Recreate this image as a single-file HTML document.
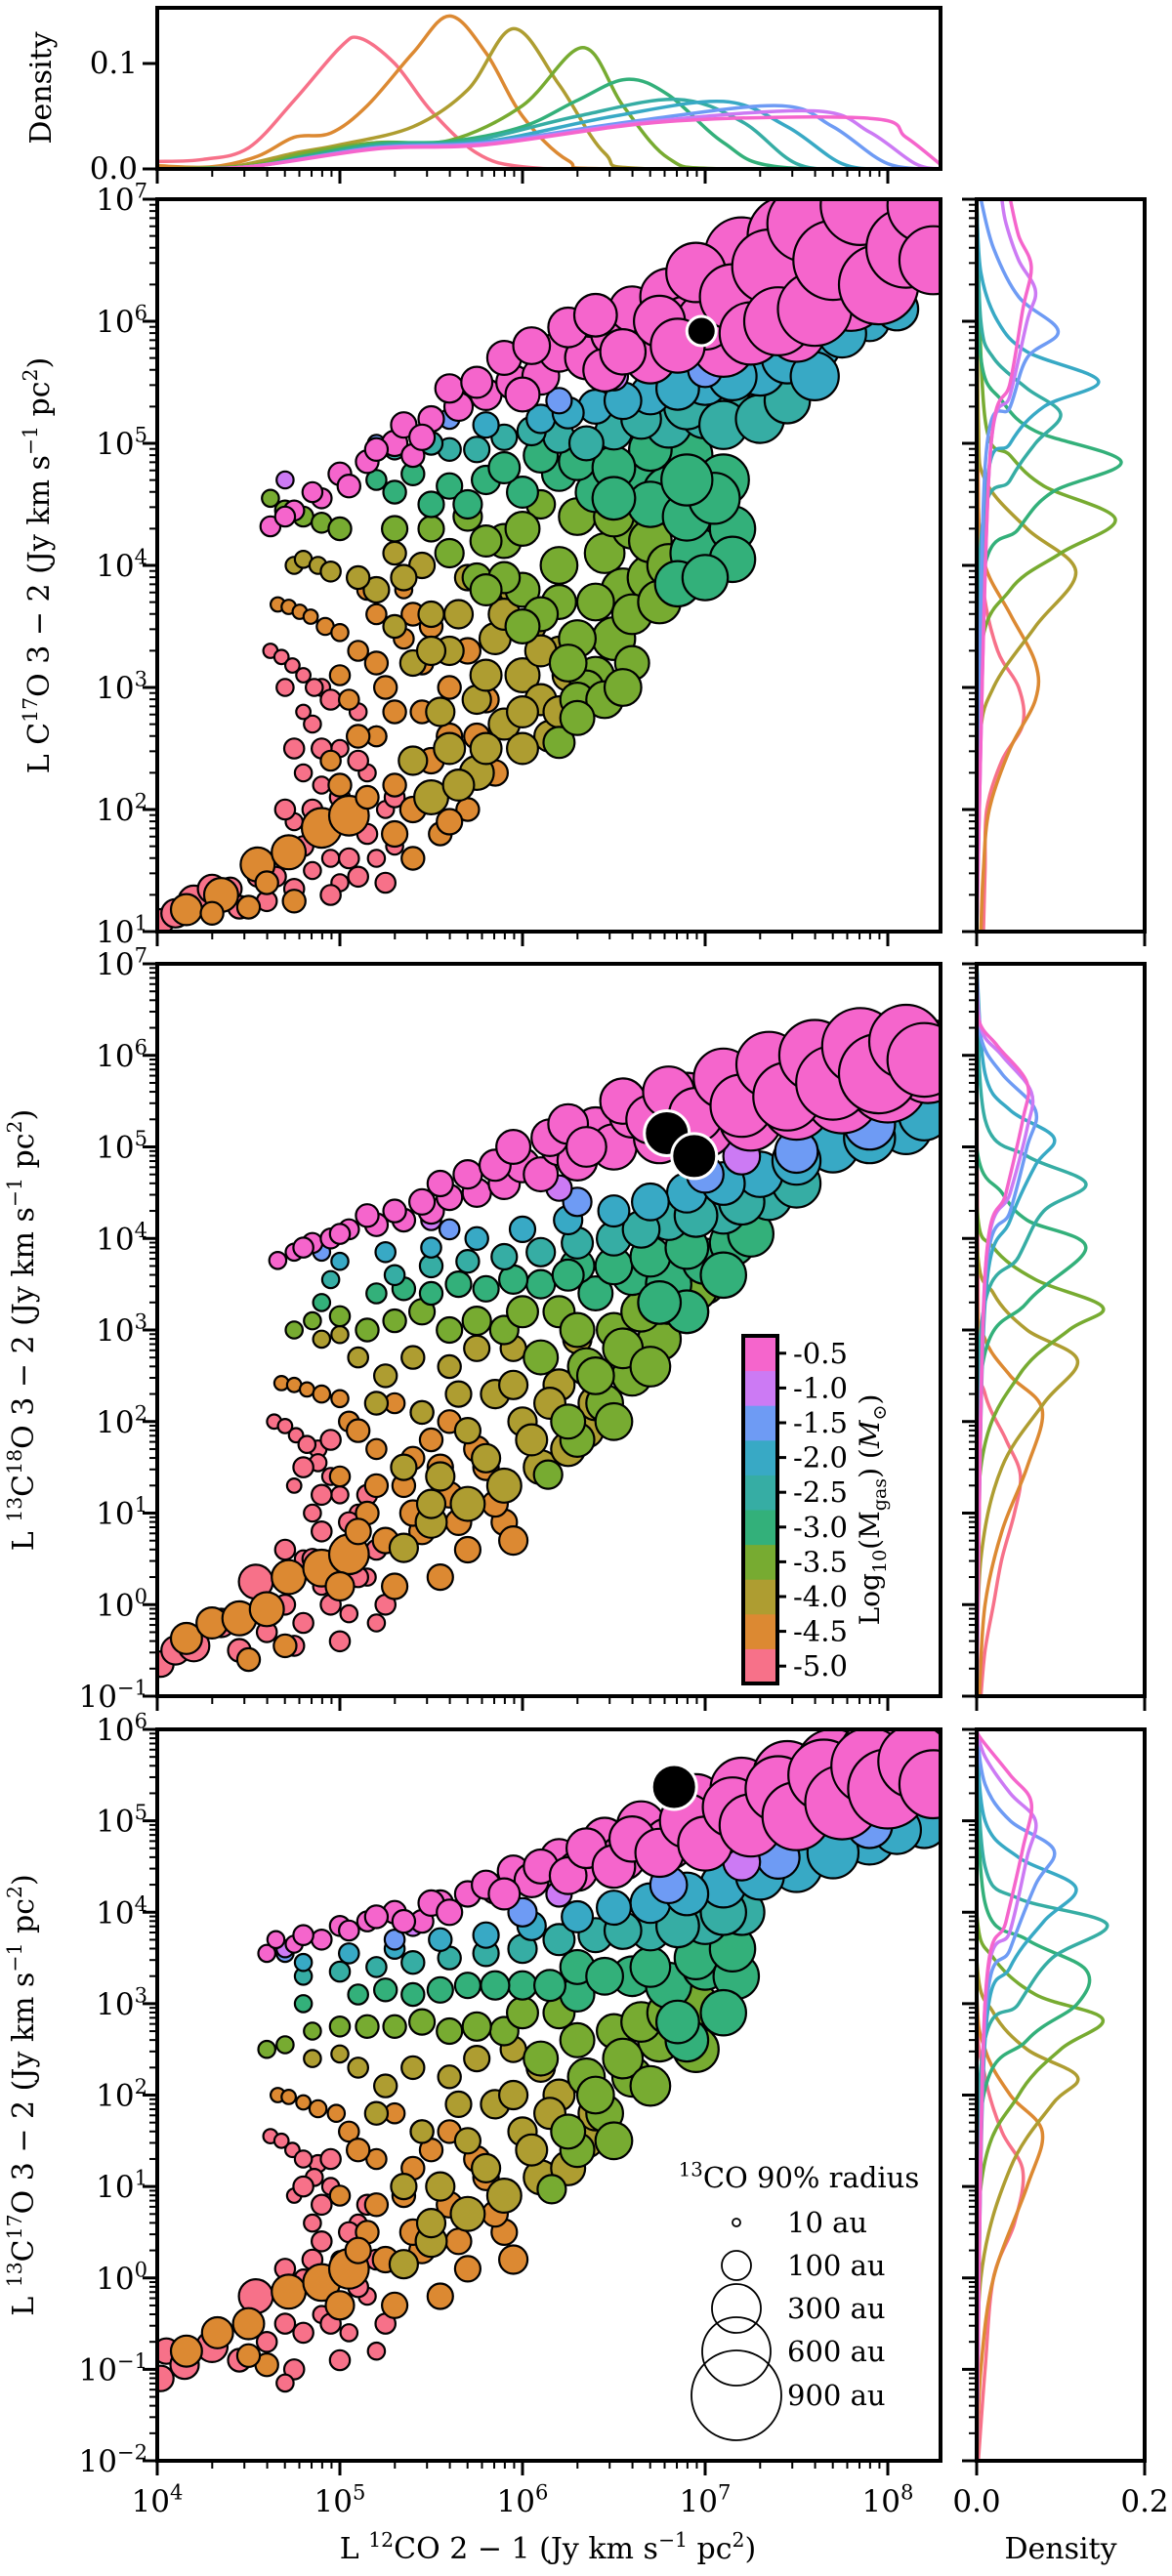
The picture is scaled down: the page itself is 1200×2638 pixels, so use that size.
<!DOCTYPE html>
<html><head><meta charset="utf-8"><title>Line luminosity scatter</title>
<style>html,body{margin:0;padding:0;background:#fff}svg{display:block}text{font-family:"DejaVu Serif","Liberation Serif",serif;fill:#000}</style>
</head><body>
<svg id="fig" width="1200" height="2638" viewBox="0 0 1200 2638" xmlns="http://www.w3.org/2000/svg"></svg>
<script>
// ---------- data ----------
const massLabels = ['-5.0','-4.5','-4.0','-3.5','-3.0','-2.5','-2.0','-1.5','-1.0','-0.5'];
const massColors = ['#f77189','#dc8932','#ae9d31','#77ab31','#33b07a','#36ada4','#38a9c5','#6e9bf4','#cc7af4','#f565cc'];
const xTickExps = [4,5,6,7,8];
const legendSizesAu = ['10 au','100 au','300 au','600 au','900 au'];
const legendRadii = [4,15,25,35,46];

// panel 1: C17O  [log10 L12CO, log10 Ly, radius]
const p1_c0=[[4.02,1.08,9],[4.1,1.15,10],[4.2,1.25,11],[4.3,1.35,10],[4.45,1.2,8],[4.55,1.45,7],[4.6,1.25,7],[4.75,1.35,7],[4.75,1.9,6],[4.8,2.3,6],[4.85,2.7,6],[4.9,2.2,6],[4.95,1.6,6],[5.0,2.5,6],[5.05,1.9,6],[5.1,2.8,6],[4.9,3.0,6],[5.15,2.3,6],[5.2,1.6,6],[5.0,1.4,6],[5.25,2.0,6],[4.85,1.5,6],[5.3,1.7,6],[4.62,3.3,5],[4.68,3.25,5],[4.74,3.18,5],[4.8,3.1,5],[4.86,3.0,6],[4.8,2.8,5],
 [4.7,2.0,7],[4.75,2.5,7],[4.8,1.7,7],[4.9,2.5,7],[4.95,2.9,7],[5.0,2.1,7],[5.05,1.6,7],[5.1,2.4,7],[5.15,1.8,7],[5.2,2.6,7],[5.25,1.4,7],[5.3,2.1,7],[4.85,2.0,7],[4.7,3.0,6],[4.95,1.3,7],[5.1,1.45,7],[4.65,1.45,7],[4.4,1.35,8]];
const p1_c1=[[4.16,1.18,11],[4.35,1.3,12],[4.55,1.55,12],[4.72,1.65,12],[4.9,1.85,14],[5.05,1.95,14],[4.5,1.2,8],[4.75,1.25,8],[4.95,2.4,7],[5.05,2.9,7],[5.1,3.3,7],[5.2,2.6,7],[5.25,3.0,8],[5.3,2.2,8],[5.35,3.4,7],[5.45,2.8,8],[5.5,2.4,9],[5.6,3.0,8],[5.7,2.0,8],[5.55,1.8,8],[5.4,1.6,8],[5.15,2.1,8],[5.75,2.6,9],[5.2,3.6,7],[5.35,3.8,6],[4.66,3.68,5],[4.72,3.66,5],[4.78,3.62,5],[4.84,3.58,5],[4.92,3.5,6],[5.0,3.45,6],
 [5.0,2.2,8],[5.1,2.6,8],[5.2,3.2,8],[5.3,2.8,8],[5.4,2.0,9],[5.45,3.2,8],[5.5,3.5,8],[5.6,2.6,9],[5.65,2.2,9],[5.7,3.3,9],[5.8,2.9,9],[5.85,2.3,9],[5.6,1.9,9],[5.3,1.8,9],[5.0,3.1,7],[5.15,3.8,7],[5.4,3.6,8],[4.6,1.4,8],[4.3,1.15,8]];
const p1_c2=[[4.75,4.0,6],[4.8,4.05,6],[4.88,4.0,6],[4.95,3.95,7],[5.3,3.5,8],[5.4,3.2,9],[5.5,3.6,9],[5.6,3.3,10],[5.7,3.9,9],[5.75,2.9,10],[5.85,3.4,11],[5.9,2.7,11],[6.0,3.1,12],[6.1,2.9,11],[6.15,2.6,11],[5.95,3.8,10],[5.6,2.5,11],[5.5,2.1,12],[5.75,2.3,12],[6.05,3.5,10],[5.45,4.0,9],[6.2,3.3,10],
 [5.2,3.8,9],[5.35,3.9,9],[5.5,3.3,10],[5.55,2.8,10],[5.65,3.6,10],[5.8,3.1,11],[5.8,2.5,11],[5.9,3.6,11],[6.0,2.8,11],[6.1,3.3,11],[6.2,2.8,11],[6.25,3.1,11],[5.65,2.2,11],[5.4,2.4,10],[6.0,2.5,11],[5.3,4.1,8],[5.1,3.9,8]];
const p1_c3=[[4.62,4.55,6],[4.7,4.45,7],[4.8,4.4,7],[4.9,4.35,7],[5.0,4.3,8],[5.5,4.3,9],[5.7,4.4,10],[5.9,4.2,12],[6.0,3.8,12],[6.2,4.0,13],[6.3,4.4,13],[6.45,4.1,14],[6.55,3.8,15],[6.6,4.3,14],[6.5,3.4,15],[6.4,3.1,13],[6.3,3.4,13],[6.2,3.7,12],[6.7,3.9,16],[6.35,3.0,12],[6.6,3.2,12],[6.1,4.5,10],[5.75,3.9,10],[6.2,2.55,11],[6.3,2.9,12],
 [5.3,4.3,9],[5.6,4.1,10],[5.8,4.2,11],[5.9,3.9,11],[6.0,4.3,12],[6.1,3.6,12],[6.25,3.2,13],[6.4,3.7,13],[6.5,4.4,14],[6.6,3.6,14],[6.7,4.2,15],[6.8,4.0,15],[6.45,2.9,13],[6.55,3.0,13],[6.3,2.75,12],[6.0,3.5,12],[5.8,3.8,11],[6.75,3.7,15]];
const p1_c4=[[5.2,4.7,7],[5.4,4.75,8],[5.6,4.65,9],[5.8,4.7,10],[6.0,4.6,11],[6.2,4.75,12],[6.4,4.6,14],[6.6,4.7,16],[6.8,4.6,18],[6.9,4.9,18],[7.0,4.4,20],[7.1,4.7,18],[6.95,4.1,18],[6.85,3.85,16],[7.15,4.3,16],[6.7,4.95,15],
 [5.3,4.6,8],[5.5,4.5,9],[5.7,4.5,10],[5.9,4.8,11],[6.1,4.9,12],[6.3,4.85,13],[6.5,4.8,15],[6.7,4.5,16],[6.9,4.4,17],[7.05,4.55,18],[7.15,4.05,16],[7.0,3.9,16],[6.9,4.7,18],[6.5,4.55,15]];
const p1_c5=[[5.3,4.95,7],[5.6,4.95,8],[5.9,5.05,9],[6.2,5.05,11],[6.5,5.1,13],[6.8,5.15,16],[7.0,5.25,18],[7.2,5.3,18],[7.35,5.3,16],
 [5.5,5.0,8],[5.75,4.95,9],[6.05,5.1,10],[6.35,5.0,12],[6.65,5.2,14],[6.9,5.3,16],[7.1,5.15,17],[7.3,5.2,17],[7.45,5.35,16]];
const p1_c6=[[5.8,5.15,9],[6.1,5.2,10],[6.4,5.3,12],[6.7,5.4,14],[7.0,5.5,16],[7.3,5.6,18],[7.6,5.8,18],[7.9,6.0,14],
 [6.25,5.25,11],[6.55,5.35,13],[6.85,5.45,15],[7.15,5.55,17],[7.45,5.7,18],[7.75,5.9,17],[8.05,6.1,15],[7.6,5.55,17]];
const p1_c7=[[5.2,5.0,6],[5.6,5.2,7],[6.2,5.35,9],[7.0,5.6,12],[7.8,6.1,14]];
const p1_c8=[[4.7,4.7,6],[5.5,5.2,7],[6.5,5.55,10],[7.5,5.9,14]];
const p1_c9=[[4.62,4.32,7],[4.75,4.45,7],[4.9,4.55,7],[5.0,4.75,8],[5.15,4.85,8],[5.3,5.0,9],[5.4,4.9,8],[5.5,5.2,9],[5.65,5.3,10],[5.8,5.4,11],[5.95,5.5,12],[6.1,5.55,13],[6.2,5.75,14],[6.35,5.7,15],[6.5,5.9,16],[6.6,6.1,16],[6.7,5.7,18],[6.8,6.2,20],[6.9,5.95,22],[7.05,6.35,24],[7.1,5.8,22],[7.2,6.55,26],[7.3,6.1,28],[7.45,6.7,28],[7.6,6.4,30],[7.75,6.85,30],[7.9,6.6,30],[8.05,6.95,28],[8.15,6.8,26],[8.25,7.0,22],[7.5,5.9,20],[7.8,6.2,24],[8.0,6.45,22],[7.0,6.0,20],
 [4.7,4.4,7],[4.85,4.6,7],[5.05,4.65,8],[5.2,4.95,8],[5.35,5.15,9],[5.45,5.05,9],[5.6,5.45,10],[5.75,5.5,11],[5.9,5.7,12],[6.0,5.4,12],[6.05,5.8,13],[6.25,5.95,14],[6.4,6.05,15],[6.45,5.6,15],[6.55,5.75,16],[6.75,6.0,18],[6.85,5.8,19],[6.95,6.4,21],[7.15,6.2,23],[7.25,5.9,22],[7.35,6.45,26],[7.4,6.0,24],[7.55,6.8,27],[7.6,6.1,26],[7.7,6.5,28],[7.85,6.95,28],[7.95,6.3,28],[8.1,6.6,28],[8.2,6.95,26],[8.25,6.5,24]];
const p1_obs=[[6.98,5.92,15]];

// panel 2: 13C18O
const p2_c0=[[4.02,-0.65,9],[4.1,-0.5,10],[4.2,-0.45,11],[4.35,-0.2,10],[4.54,0.25,12],[4.45,-0.5,8],[4.6,-0.3,7],[4.75,-0.45,7],[4.8,0.5,6],[4.85,1.0,6],[4.9,0.2,6],[4.95,1.4,6],[5.0,0.6,6],[5.05,-0.1,6],[5.1,1.0,6],[5.15,0.3,6],[4.88,1.7,6],[5.2,-0.2,6],[5.0,1.2,6],[4.64,2.0,5],[4.7,1.95,5],[4.76,1.85,5],[4.82,1.75,6],[4.88,1.55,6],[4.75,1.3,5],
 [4.7,0.0,7],[4.8,-0.2,7],[4.85,0.5,7],[4.9,1.2,7],[4.95,0.0,7],[5.0,-0.4,7],[5.05,0.9,7],[5.1,0.3,7],[5.15,1.2,7],[5.2,0.6,7],[4.9,0.8,7],[4.8,1.5,7],[5.25,0.0,7],[4.7,0.6,7],[4.95,1.8,7]];
const p2_c1=[[4.16,-0.37,11],[4.3,-0.2,11],[4.45,-0.15,12],[4.6,-0.05,12],[4.72,0.3,12],[4.9,0.4,13],[5.05,0.55,14],[4.5,-0.6,8],[4.7,-0.45,8],[5.0,1.4,7],[5.05,2.0,7],[5.15,1.0,8],[5.2,1.7,7],[5.3,2.2,7],[5.35,1.3,8],[5.45,0.8,9],[5.5,1.8,8],[5.6,1.2,9],[5.7,0.6,9],[5.8,1.5,9],[5.9,0.9,9],[5.55,0.3,9],[5.3,0.2,9],[4.68,2.42,5],[4.75,2.4,5],[4.82,2.35,5],[4.9,2.3,6],[5.0,2.25,6],
 [5.1,1.9,8],[5.2,1.3,8],[5.25,0.7,9],[5.4,1.6,8],[5.45,2.1,8],[5.55,1.5,9],[5.65,0.9,9],[5.75,1.7,9],[5.85,1.1,9],[5.95,0.7,10],[5.4,1.0,9],[5.1,0.8,9],[5.0,0.2,10],[5.6,2.0,8]];
const p2_c2=[[4.9,2.9,6],[5.0,2.95,6],[5.1,2.7,7],[5.25,2.5,8],[5.35,0.62,10],[5.5,0.9,11],[5.7,1.1,12],[5.9,1.3,12],[6.1,1.5,12],[5.45,2.1,8],[5.6,2.6,8],[5.7,1.9,9],[5.85,2.3,10],[6.0,2.0,10],[6.2,2.4,11],[6.35,1.9,12],[5.95,2.8,9],[6.3,2.9,10],
 [5.2,2.2,8],[5.35,1.5,9],[5.4,2.7,8],[5.55,1.4,10],[5.65,2.3,9],[5.75,2.8,9],[5.8,1.6,10],[5.95,2.4,10],[6.05,1.8,11],[6.15,2.2,11],[6.25,1.7,12],[6.4,2.2,12],[6.1,2.7,10],[5.5,1.1,10]];
const p2_c3=[[4.75,3.0,6],[4.85,3.1,6],[5.0,3.15,7],[5.3,3.1,8],[5.6,3.0,9],[5.9,3.0,10],[6.1,2.7,12],[6.14,1.42,10],[6.3,1.8,12],[6.45,2.2,13],[6.6,2.5,14],[6.75,2.9,15],[6.9,3.2,15],[6.5,3.0,12],[6.2,3.2,11],[6.35,2.6,13],[7.0,3.5,14],
 [5.15,3.0,8],[5.45,3.2,9],[5.75,3.1,10],[6.0,3.2,11],[6.25,2.0,12],[6.4,2.5,13],[6.55,2.8,14],[6.65,3.2,14],[6.8,3.3,15],[6.95,3.45,15],[6.5,2.0,13],[6.7,2.6,14],[6.3,3.0,12]];
const p2_c4=[[4.9,3.3,6],[5.2,3.4,7],[5.5,3.4,8],[5.8,3.45,9],[6.1,3.5,10],[6.4,3.4,12],[6.6,3.6,14],[6.8,3.5,16],[7.0,3.75,16],[7.15,3.95,16],[6.9,3.2,15],[6.3,3.7,12],
 [5.35,3.45,8],[5.65,3.5,9],[5.95,3.55,10],[6.25,3.6,11],[6.5,3.7,13],[6.7,3.8,14],[6.9,3.9,15],[7.1,3.6,16],[7.25,4.05,16],[6.75,3.3,15]];
const p2_c5=[[4.95,3.55,6],[5.3,3.6,7],[5.7,3.75,8],[6.1,3.85,10],[6.5,4.0,12],[6.8,4.2,14],[7.1,4.3,16],[7.35,4.45,16],
 [5.5,3.7,8],[5.9,3.8,9],[6.3,3.95,11],[6.65,4.1,13],[6.95,4.25,15],[7.2,4.4,16],[7.5,4.6,17]];
const p2_c6=[[5.0,3.75,6],[5.5,3.9,7],[6.0,4.1,9],[6.5,4.3,11],[6.9,4.5,14],[7.3,4.7,16],[7.7,5.0,18],[8.1,5.2,18],
 [5.25,3.85,7],[5.75,4.0,8],[6.25,4.2,10],[6.7,4.4,13],[7.1,4.6,15],[7.5,4.85,17],[7.9,5.1,18],[8.2,5.35,18]];
const p2_c7=[[4.9,3.85,6],[5.6,4.1,7],[6.3,4.4,10],[7.0,4.7,13],[7.5,4.95,15],[7.9,5.25,18]];
const p2_c8=[[4.8,3.9,6],[5.5,4.2,7],[6.2,4.55,9],[7.2,4.9,13]];
const p2_c9=[[4.66,3.76,6],[4.75,3.85,6],[4.85,3.95,7],[4.95,4.0,7],[5.05,4.1,7],[5.2,4.15,8],[5.35,4.2,8],[5.5,4.3,9],[5.6,4.45,9],[5.75,4.5,10],[5.9,4.6,11],[6.0,4.8,12],[6.1,4.7,12],[6.2,5.0,13],[6.3,4.85,14],[6.4,5.2,15],[6.5,5.0,16],[6.6,5.35,16],[6.75,5.1,18],[6.9,5.5,20],[7.0,5.2,20],[7.15,5.6,22],[7.25,5.3,22],[7.4,5.75,24],[7.5,5.45,24],[7.65,5.85,26],[7.75,5.55,26],[7.9,5.95,28],[8.0,5.7,28],[8.15,6.05,26],[8.22,5.85,24],[8.27,6.1,18],
 [4.8,3.9,7],[5.0,4.05,7],[5.15,4.25,8],[5.3,4.3,8],[5.45,4.4,9],[5.55,4.6,9],[5.7,4.7,10],[5.85,4.8,11],[5.95,5.0,12],[6.15,5.1,13],[6.25,5.25,14],[6.35,5.0,14],[6.55,5.5,16],[6.7,5.3,17],[6.8,5.6,18],[6.95,5.35,19],[7.1,5.75,21],[7.2,5.45,22],[7.35,5.9,23],[7.45,5.55,24],[7.6,6.0,25],[7.7,5.7,26],[7.85,6.1,27],[7.95,5.8,28],[8.1,6.15,26],[8.2,5.95,26]];
const p2_obs=[[6.79,5.15,23],[6.94,4.9,23]];

// panel 3: 13C17O
const p3_c0=[[4.02,-1.1,9],[4.05,-0.8,9],[4.15,-0.95,10],[4.3,-0.75,11],[4.54,-0.2,12],[4.45,-0.9,8],[4.6,-0.7,7],[4.75,-1.0,7],[4.7,-1.15,6],[4.8,0.0,6],[4.85,0.6,6],[4.9,-0.4,6],[4.95,1.0,6],[5.0,0.2,6],[5.05,-0.6,6],[5.1,0.6,6],[5.15,-0.2,6],[4.88,1.25,6],[5.2,-0.8,6],[5.0,0.9,6],[4.62,1.55,5],[4.68,1.5,5],[4.74,1.4,5],[4.8,1.3,6],[4.86,1.1,6],[4.75,0.9,5],
 [4.7,-0.5,7],[4.8,-0.6,7],[4.85,0.2,7],[4.9,0.8,7],[4.95,-0.5,7],[5.0,-0.9,7],[5.05,0.5,7],[5.1,-0.1,7],[5.15,0.8,7],[5.2,0.2,7],[4.9,0.4,7],[4.8,1.0,7],[5.25,-0.5,7],[4.7,0.1,7],[4.95,1.3,7]];
const p3_c1=[[4.16,-0.8,11],[4.33,-0.6,11],[4.5,-0.5,11],[4.72,-0.15,12],[4.9,-0.05,13],[5.05,0.1,14],[4.6,-0.95,8],[4.5,-0.85,8],[5.0,0.9,7],[5.05,1.6,7],[5.15,0.5,8],[5.2,1.3,7],[5.3,1.8,7],[5.35,0.9,8],[5.45,0.3,9],[5.5,1.4,8],[5.6,0.8,9],[5.7,0.1,9],[5.8,1.1,9],[5.9,0.5,9],[5.55,-0.2,9],[5.3,-0.3,9],[4.66,2.0,5],[4.72,1.98,5],[4.8,1.92,5],[4.88,1.85,6],[4.98,1.8,6],
 [5.1,1.4,8],[5.2,0.8,8],[5.25,0.2,9],[5.4,1.2,8],[5.45,1.6,8],[5.55,1.0,9],[5.65,0.4,9],[5.75,1.3,9],[5.85,0.7,9],[5.95,0.2,10],[5.4,0.5,9],[5.1,0.3,9],[5.0,-0.3,10],[5.6,1.6,8]];
const p3_c2=[[4.85,2.4,6],[5.0,2.45,6],[5.1,2.3,7],[5.25,2.1,8],[5.35,0.15,10],[5.5,0.4,11],[5.7,0.7,12],[5.9,0.9,12],[6.1,1.1,12],[5.45,1.6,8],[5.6,2.2,8],[5.7,1.5,9],[5.85,1.9,10],[6.0,1.6,10],[6.2,2.0,11],[6.35,1.5,12],[5.95,2.5,9],[6.3,2.6,10],
 [5.2,1.8,8],[5.35,1.0,9],[5.4,2.3,8],[5.55,1.0,10],[5.65,1.9,9],[5.75,2.4,9],[5.8,1.2,10],[5.95,2.0,10],[6.05,1.4,11],[6.15,1.8,11],[6.25,1.2,12],[6.4,1.8,12],[6.1,2.3,10],[5.5,0.6,10]];
const p3_c3=[[4.6,2.5,6],[4.7,2.55,6],[4.85,2.7,6],[5.0,2.75,7],[5.3,2.75,8],[5.6,2.7,9],[5.9,2.7,10],[6.1,2.4,12],[6.16,0.97,10],[6.3,1.4,12],[6.45,1.8,13],[6.6,2.2,14],[6.75,2.6,15],[6.9,2.9,15],[6.5,2.7,12],[6.2,2.9,11],[6.35,2.2,13],[6.95,2.5,16],
 [5.15,2.75,8],[5.45,2.8,9],[5.75,2.75,10],[6.0,2.9,11],[6.25,1.6,12],[6.4,2.0,13],[6.55,2.4,14],[6.65,2.8,14],[6.8,2.9,15],[6.95,3.0,15],[6.5,1.5,13],[6.7,2.1,14],[6.3,2.6,12]];
const p3_c4=[[4.8,3.0,6],[5.1,3.1,7],[5.4,3.1,8],[5.7,3.2,9],[6.0,3.2,10],[6.3,3.1,12],[6.6,3.3,14],[6.8,3.2,16],[7.0,3.4,16],[7.17,3.3,16],[6.9,2.6,15],[6.3,3.4,12],
 [5.25,3.15,8],[5.55,3.15,9],[5.85,3.2,10],[6.15,3.2,11],[6.45,3.3,13],[6.7,3.4,14],[6.95,3.5,15],[7.1,2.9,16],[7.15,3.6,16],[6.85,2.8,15]];
const p3_c5=[[4.8,3.3,6],[5.2,3.4,7],[5.6,3.5,8],[6.0,3.6,10],[6.4,3.75,12],[6.7,3.8,14],[7.0,3.9,16],[7.2,4.0,16],
 [5.0,3.35,7],[5.4,3.45,8],[5.8,3.55,9],[6.2,3.7,11],[6.55,3.8,13],[6.85,3.85,15],[7.1,4.0,16]];
const p3_c6=[[4.8,3.45,6],[5.3,3.6,7],[5.8,3.75,9],[6.3,3.95,11],[6.7,4.1,14],[7.1,4.3,16],[7.5,4.5,18],[7.9,4.8,18],[8.2,4.95,16],
 [5.05,3.55,7],[5.55,3.7,8],[6.05,3.85,10],[6.5,4.05,12],[6.9,4.2,15],[7.3,4.4,17],[7.7,4.65,18],[8.05,4.9,17]];
const p3_c7=[[4.7,3.55,6],[5.3,3.7,7],[6.0,4.0,10],[6.8,4.3,13],[7.4,4.6,15],[7.9,4.95,16]];
const p3_c8=[[4.7,3.6,6],[5.4,3.85,7],[6.2,4.2,9],[7.2,4.55,13]];
const p3_c9=[[4.6,3.55,6],[4.65,3.7,6],[4.75,3.65,6],[4.9,3.7,7],[5.0,3.85,7],[5.15,3.9,7],[5.3,4.0,8],[5.45,3.9,8],[5.55,4.1,9],[5.7,4.2,9],[5.85,4.25,10],[5.95,4.45,11],[6.05,4.35,12],[6.2,4.6,13],[6.3,4.45,14],[6.45,4.8,15],[6.55,4.6,16],[6.65,4.95,17],[6.8,4.75,18],[6.95,5.2,20],[7.05,4.9,20],[7.2,5.35,22],[7.3,5.05,22],[7.45,5.5,24],[7.55,5.2,24],[7.7,5.6,26],[7.8,5.3,26],[7.95,5.7,28],[8.05,5.45,28],[8.2,5.75,26],[8.25,5.5,24],
 [4.8,3.75,7],[5.05,3.8,7],[5.2,3.95,8],[5.35,3.9,8],[5.5,4.1,9],[5.6,4.0,9],[5.8,4.3,10],[5.9,4.2,11],[6.1,4.5,12],[6.25,4.4,13],[6.35,4.7,14],[6.5,4.5,15],[6.6,4.8,16],[6.75,4.65,17],[6.9,5.0,19],[7.0,4.75,19],[7.15,5.15,21],[7.25,4.95,22],[7.4,5.35,23],[7.5,5.05,24],[7.65,5.5,25],[7.75,5.2,26],[7.9,5.6,27],[8.0,5.35,28],[8.15,5.65,26],[8.25,5.4,24]];
const p3_obs=[[6.83,5.37,23]];

// top marginal density [log x, density]
const top_c0=[[4,0.007],[4.25,0.009],[4.5,0.02],[4.75,0.065],[5.0,0.115],[5.11,0.124],[5.3,0.1],[5.5,0.055],[5.75,0.015],[6.0,0.002],[6.5,0],[8.29,0]];
const top_c1=[[4,0.003],[4.3,0.002],[4.55,0.012],[4.75,0.03],[4.95,0.034],[5.15,0.06],[5.4,0.11],[5.6,0.145],[5.8,0.11],[6.0,0.05],[6.25,0.008],[6.5,0],[8.29,0]];
const top_c2=[[4,0],[4.4,0.002],[4.75,0.015],[5.0,0.023],[5.4,0.04],[5.7,0.075],[5.95,0.133],[6.2,0.08],[6.45,0.015],[6.7,0],[8.29,0]];
const top_c3=[[4,0],[4.5,0.003],[4.8,0.015],[5.2,0.025],[5.6,0.027],[6.0,0.06],[6.33,0.115],[6.55,0.06],[6.8,0.01],[7.1,0],[8.29,0]];
const top_c4=[[4,0],[4.5,0.002],[4.8,0.012],[5.2,0.024],[5.6,0.026],[6.0,0.04],[6.3,0.065],[6.57,0.085],[6.8,0.07],[7.1,0.025],[7.4,0.002],[8.29,0]];
const top_c5=[[4,0],[4.5,0.002],[5.2,0.022],[5.7,0.026],[6.3,0.05],[6.84,0.066],[7.2,0.045],[7.5,0.005],[7.8,0],[8.29,0]];
const top_c6=[[4,0],[4.5,0.002],[5.2,0.021],[5.8,0.026],[6.5,0.05],[7.1,0.064],[7.45,0.04],[7.75,0.005],[8.0,0],[8.29,0]];
const top_c7=[[4,0],[4.5,0.002],[5.2,0.02],[5.8,0.025],[6.6,0.045],[7.4,0.06],[7.7,0.04],[8.0,0.005],[8.29,0]];
const top_c8=[[4,0],[4.5,0.002],[5.2,0.02],[5.8,0.024],[6.7,0.045],[7.6,0.055],[7.9,0.035],[8.15,0.005],[8.29,0]];
const top_c9=[[4,0],[4.5,0.002],[5.2,0.019],[5.8,0.023],[6.8,0.045],[7.9,0.048],[8.1,0.03],[8.29,0.004]];

// right marginal densities [log y, density]
const r1_c0=[[1.0,0.008],[1.5,0.01],[2.0,0.012],[2.4,0.03],[2.7,0.055],[3.0,0.05],[3.3,0.025],[3.8,0.008],[4.5,0.002],[7,0]];
const r1_c1=[[1.0,0.005],[1.5,0.008],[2.0,0.015],[2.5,0.04],[2.9,0.07],[3.2,0.07],[3.6,0.04],[4.0,0.01],[4.5,0.002],[7,0]];
const r1_c2=[[1,0],[2.5,0.003],[3.0,0.02],[3.5,0.07],[3.95,0.118],[4.3,0.06],[4.7,0.01],[5.2,0.002],[7,0]];
const r1_c3=[[1,0],[3.2,0.003],[3.8,0.04],[4.1,0.1],[4.38,0.165],[4.65,0.08],[4.9,0.04],[5.2,0.01],[7,0]];
const r1_c4=[[1,0],[3.8,0.005],[4.3,0.05],[4.6,0.09],[4.85,0.172],[5.1,0.07],[5.35,0.03],[5.7,0.005],[7,0]];
const r1_c5=[[1,0],[4.2,0.005],[4.7,0.04],[5.0,0.07],[5.24,0.1],[5.45,0.06],[5.7,0.02],[6.0,0.005],[7,0]];
const r1_c6=[[1,0],[4.5,0.01],[5.0,0.04],[5.3,0.08],[5.51,0.145],[5.75,0.06],[6.0,0.025],[6.4,0.005],[7,0]];
const r1_c7=[[1,0],[4.8,0.01],[5.3,0.04],[5.7,0.06],[5.92,0.097],[6.2,0.05],[6.6,0.02],[7,0.005]];
const r1_c8=[[1,0],[4.8,0.015],[5.4,0.04],[6.0,0.06],[6.25,0.07],[6.5,0.05],[6.8,0.035],[7,0.03]];
const r1_c9=[[1,0],[4.8,0.015],[5.5,0.04],[6.1,0.055],[6.45,0.065],[6.7,0.05],[7,0.04]];
const r2_c0=[[-1,0.005],[-0.5,0.01],[0,0.02],[0.5,0.03],[1.0,0.045],[1.42,0.052],[1.8,0.035],[2.3,0.01],[3,0.002],[7,0]];
const r2_c1=[[-1,0.003],[0,0.01],[0.8,0.03],[1.5,0.06],[2.13,0.078],[2.5,0.04],[2.9,0.01],[3.5,0],[7,0]];
const r2_c2=[[-1,0],[0.5,0.005],[1.5,0.03],[2.2,0.08],[2.67,0.12],[3.0,0.06],[3.4,0.02],[4,0],[7,0]];
const r2_c3=[[-1,0],[1.5,0.005],[2.5,0.05],[3.0,0.11],[3.25,0.15],[3.55,0.07],[3.9,0.02],[4.4,0],[7,0]];
const r2_c4=[[-1,0],[2.5,0.005],[3.3,0.06],[3.9,0.13],[4.2,0.06],[4.5,0.03],[5,0],[7,0]];
const r2_c5=[[-1,0],[3.0,0.005],[3.8,0.05],[4.3,0.08],[4.6,0.13],[4.9,0.06],[5.3,0.01],[7,0]];
const r2_c6=[[-1,0],[3.3,0.01],[4.2,0.04],[4.8,0.07],[5.1,0.092],[5.4,0.04],[5.8,0.01],[7,0]];
const r2_c7=[[-1,0],[3.5,0.01],[4.3,0.04],[5.0,0.06],[5.4,0.07],[5.8,0.03],[6.2,0.005],[7,0]];
const r2_c8=[[-1,0],[3.6,0.01],[4.5,0.04],[5.2,0.06],[5.6,0.065],[6.0,0.03],[6.3,0.005],[7,0]];
const r2_c9=[[-1,0],[3.6,0.01],[4.5,0.035],[5.3,0.055],[5.7,0.06],[6.1,0.025],[6.4,0.002],[7,0]];
const r3_c0=[[-2,0.002],[-1,0.01],[0,0.02],[0.6,0.045],[1.17,0.055],[1.6,0.03],[2.2,0.01],[3,0],[6,0]];
const r3_c1=[[-2,0],[-1,0.005],[0,0.02],[1.0,0.06],[1.6,0.078],[2.0,0.04],[2.5,0.01],[3.2,0],[6,0]];
const r3_c2=[[-2,0],[0,0.005],[1.2,0.04],[1.9,0.09],[2.2,0.12],[2.5,0.06],[2.9,0.02],[3.5,0],[6,0]];
const r3_c3=[[-2,0],[1.0,0.005],[2.0,0.05],[2.5,0.1],[2.83,0.15],[3.1,0.07],[3.5,0.02],[4,0],[6,0]];
const r3_c4=[[-2,0],[1.8,0.005],[2.6,0.06],[3.0,0.12],[3.37,0.13],[3.7,0.06],[4.1,0.01],[6,0]];
const r3_c5=[[-2,0],[2.3,0.005],[3.0,0.05],[3.5,0.09],[3.87,0.155],[4.15,0.05],[4.5,0.01],[6,0]];
const r3_c6=[[-2,0],[2.6,0.01],[3.4,0.04],[3.9,0.08],[4.27,0.118],[4.6,0.05],[5.0,0.01],[6,0]];
const r3_c7=[[-2,0],[2.8,0.01],[3.6,0.04],[4.3,0.07],[4.68,0.092],[5.0,0.04],[5.4,0.01],[6,0]];
const r3_c8=[[-2,0],[3.0,0.01],[3.8,0.04],[4.6,0.06],[5.0,0.07],[5.3,0.04],[5.7,0.01],[6,0]];
const r3_c9=[[-2,0],[3.0,0.01],[3.9,0.035],[4.7,0.055],[5.2,0.065],[5.5,0.04],[5.9,0.005],[6,0]];

// ---------- layout ----------
const NS='http://www.w3.org/2000/svg';
const svg=document.getElementById('fig');
const L=161,R=963,XMIN=4,XMAX=8.2888;
const RL=1000,RR=1172;
const RSCALE=1.45;
const X=v=>L+(v-XMIN)/(XMAX-XMIN)*(R-L);
const panels=[
 {top:204,bottom:954,ymin:1,ymax:7,pts:[p1_c0,p1_c1,p1_c2,p1_c3,p1_c4,p1_c5,p1_c6,p1_c7,p1_c8,p1_c9],obs:p1_obs,dens:[r1_c0,r1_c1,r1_c2,r1_c3,r1_c4,r1_c5,r1_c6,r1_c7,r1_c8,r1_c9],
  label:[['L C',0],['17',1],['O 3 − 2 (Jy km s',0],['−1',1],[' pc',0],['2',1],[')',0]],lx:40,name:'c17o'},
 {top:987,bottom:1737,ymin:-1,ymax:7,pts:[p2_c0,p2_c1,p2_c2,p2_c3,p2_c4,p2_c5,p2_c6,p2_c7,p2_c8,p2_c9],obs:p2_obs,dens:[r2_c0,r2_c1,r2_c2,r2_c3,r2_c4,r2_c5,r2_c6,r2_c7,r2_c8,r2_c9],
  label:[['L ',0],['13',1],['C',0],['18',1],['O 3 − 2 (Jy km s',0],['−1',1],[' pc',0],['2',1],[')',0]],lx:24,name:'13c18o'},
 {top:1771,bottom:2520,ymin:-2,ymax:6,pts:[p3_c0,p3_c1,p3_c2,p3_c3,p3_c4,p3_c5,p3_c6,p3_c7,p3_c8,p3_c9],obs:p3_obs,dens:[r3_c0,r3_c1,r3_c2,r3_c3,r3_c4,r3_c5,r3_c6,r3_c7,r3_c8,r3_c9],
  label:[['L ',0],['13',1],['C',0],['17',1],['O 3 − 2 (Jy km s',0],['−1',1],[' pc',0],['2',1],[')',0]],lx:24,name:'13c17o'}
];
function el(tag,attrs,parent){const e=document.createElementNS(NS,tag);for(const k in attrs)e.setAttribute(k,attrs[k]);(parent||svg).appendChild(e);return e;}
function line(x1,y1,x2,y2,w,parent){return el('line',{x1,y1,x2,y2,stroke:'#000','stroke-width':w},parent);}
function supText(parts,x,y,size,anchor,parent,rot){
  const t=el('text',{x,y,'font-size':size,'text-anchor':anchor||'start'},parent);
  if(rot)t.setAttribute('transform',`rotate(-90 ${x} ${y})`);
  let up=false;
  parts.forEach(([s,sup])=>{const ts=el('tspan',{},t);
    if(sup===1&&!up){ts.setAttribute('dy',-size*0.4);ts.setAttribute('font-size',size*0.68);up=true;}
    else if(sup===2&&!up){ts.setAttribute('dy',size*0.25);ts.setAttribute('font-size',size*0.68);up='d';}
    else if(sup===0&&up){ts.setAttribute('dy',up==='d'?-size*0.25:size*0.4);up=false;}
    if(sup===3){ts.setAttribute('font-style','italic');}
    ts.textContent=s;});
  return t;}
function smoothPath(pts){
  let d=`M${pts[0][0].toFixed(1)},${pts[0][1].toFixed(1)}`;
  for(let i=0;i<pts.length-1;i++){const p0=pts[Math.max(0,i-1)],p1=pts[i],p2=pts[i+1],p3=pts[Math.min(pts.length-1,i+2)];
    const c1=[p1[0]+(p2[0]-p0[0])/6,p1[1]+(p2[1]-p0[1])/6],c2=[p2[0]-(p3[0]-p1[0])/6,p2[1]-(p3[1]-p1[1])/6];
    d+=`C${c1[0].toFixed(1)},${c1[1].toFixed(1)} ${c2[0].toFixed(1)},${c2[1].toFixed(1)} ${p2[0].toFixed(1)},${p2[1].toFixed(1)}`;}
  return d;}
function logXTicks(parent,yb,labels){
  for(let d=4;d<=8;d++){line(X(d),yb,X(d),yb+15,3,parent);
    for(let k=2;k<=9;k++){const v=d+Math.log10(k);if(v<XMAX)line(X(v),yb,X(v),yb+8,2,parent);}}
  if(labels)xTickExps.forEach(e=>{const t=supText([['10',0],[String(e),1]],X(e),yb+52,31,'middle',parent);
    
    });
}

// ---------- top density panel ----------
const TT=8,TB=173,DMAX=0.1528;
const TY=v=>TB-v/DMAX*(TB-TT);
const gTop=el('g',{});


el('clipPath',{id:'cTop'},gTop).appendChild(el('rect',{x:L,y:TT,width:R-L,height:TB-TT},gTop));
[top_c0,top_c1,top_c2,top_c3,top_c4,top_c5,top_c6,top_c7,top_c8,top_c9].forEach((c,i)=>{
  const p=el('path',{d:smoothPath(c.map(([x,v])=>[X(x),TY(v)])),fill:'none',stroke:massColors[i],'stroke-width':3.5,'clip-path':'url(#cTop)'},gTop);
  
  });
el('rect',{x:L,y:TT,width:R-L,height:TB-TT,fill:'none',stroke:'#000','stroke-width':4},gTop);
logXTicks(gTop,TB,false);
[0,0.1].forEach(v=>{line(L-15,TY(v),L,TY(v),3,gTop);const t=el('text',{x:L-20,y:TY(v)+10,'font-size':31,'text-anchor':'end'},gTop);t.textContent=v.toFixed(1);});
const tdl=el('text',{x:52,y:90,'font-size':30,'text-anchor':'middle',transform:'rotate(-90 52 90)'},gTop);tdl.textContent='Density';



// ---------- main panels ----------
panels.forEach((P,pi)=>{
  const Y=v=>P.bottom-(v-P.ymin)/(P.ymax-P.ymin)*(P.bottom-P.top);
  const g=el('g',{});
  
  
  const cid='cp'+pi;const cp=el('clipPath',{id:cid},g);el('rect',{x:L,y:P.top,width:R-L,height:P.bottom-P.top},cp);
  const pts=el('g',{'clip-path':`url(#${cid})`},g);
  P.pts.forEach((arr,ci)=>{arr.forEach(([lx,ly,r])=>{
    const c=el('circle',{cx:X(lx).toFixed(1),cy:Y(ly).toFixed(1),r:(r*RSCALE).toFixed(1),fill:massColors[ci],stroke:'#000','stroke-width':2.2},pts);
    
    });});
  P.obs.forEach(([lx,ly,r])=>{const c=el('circle',{cx:X(lx),cy:Y(ly),r,fill:'#000',stroke:'#fff','stroke-width':3},pts);
    
    });
  el('rect',{x:L,y:P.top,width:R-L,height:P.bottom-P.top,fill:'none',stroke:'#000','stroke-width':4},g);
  for(let d=P.ymin;d<=P.ymax;d++){line(L-15,Y(d),L,Y(d),3,g);
    const t=supText([['10',0],[(d<0?'−':'')+Math.abs(d),1]],L-10,Y(d)+11,31,'end',g);
    
    
    for(let k=2;k<=9;k++){const v=d+Math.log10(k);if(v<P.ymax){line(L-8,Y(v),L,Y(v),2,g);line(RL-8,Y(v),RL,Y(v),2,g);}}
    line(RL-15,Y(d),RL,Y(d),3,g);}
  logXTicks(g,P.bottom,pi===2);
  const yl=supText(P.label,P.lx,(P.top+P.bottom)/2,30,'middle',g,true);
  yl.setAttribute('transform',`rotate(-90 ${P.lx+10} ${(P.top+P.bottom)/2})`);
  yl.setAttribute('x',P.lx+10);
  
  
  const RX=v=>RL+v/0.2*(RR-RL);
  const gr=el('g',{});
  
  
  const rcid='rc'+pi;const rcp=el('clipPath',{id:rcid},gr);el('rect',{x:RL,y:P.top,width:RR-RL,height:P.bottom-P.top},rcp);
  P.dens.forEach((c,ci)=>{const p=el('path',{d:smoothPath(c.map(([ly,v])=>[RX(v),Y(ly)])),fill:'none',stroke:massColors[ci],'stroke-width':3.5,'clip-path':`url(#${rcid})`},gr);
    
    });
  el('rect',{x:RL,y:P.top,width:RR-RL,height:P.bottom-P.top,fill:'none',stroke:'#000','stroke-width':4},gr);
  [0,0.2].forEach(v=>{line(RX(v),P.bottom,RX(v),P.bottom+15,3,gr);
    if(pi===2){const t=el('text',{x:RX(v),y:P.bottom+52,'font-size':31,'text-anchor':'middle'},gr);t.textContent=v.toFixed(1);}});
});

const xt=supText([['L ',0],['12',1],['CO 2 − 1 (Jy km s',0],['−1',1],[' pc',0],['2',1],[')',0]],561,2620,30,'middle');


const rdt=el('text',{x:1086,y:2620,'font-size':30,'text-anchor':'middle'});rdt.textContent='Density';



// colorbar
const CB={x:761,y:1368,w:35,h:356};
const gcb=el('g',{});


massLabels.forEach((lab,i)=>{const bh=CB.h/10;const yy=CB.y+CB.h-(i+1)*bh;
  el('rect',{x:CB.x,y:yy,width:CB.w,height:bh+0.5,fill:massColors[i]},gcb);
  line(CB.x+CB.w,yy+bh/2,CB.x+CB.w+9,yy+bh/2,3,gcb);
  const t=el('text',{x:CB.x+CB.w+16,y:yy+bh/2+10,'font-size':29},gcb);t.textContent=lab;
  
  });
el('rect',{x:CB.x,y:CB.y,width:CB.w,height:CB.h,fill:'none',stroke:'#000','stroke-width':4},gcb);
const cbl=supText([['Log',0],['10',2],['(M',0],['gas',2],[') (',0],['M',3],['⊙',2],[')',0]],900,CB.y+CB.h/2,28,'middle',gcb,true);



// size legend
const gl=el('g',{});


supText([['',0],['13',1],['CO 90% radius',0]],818,2240,29,'middle',gl);
const legY=[2276,2320,2364,2408,2453];
legendSizesAu.forEach((s,i)=>{el('circle',{cx:754,cy:legY[i],r:legendRadii[i],fill:'none',stroke:'#000','stroke-width':1.8},gl);
  const t=el('text',{x:806,y:legY[i]+10,'font-size':29},gl);t.textContent=s;
  
  });
</script>
</body></html>
